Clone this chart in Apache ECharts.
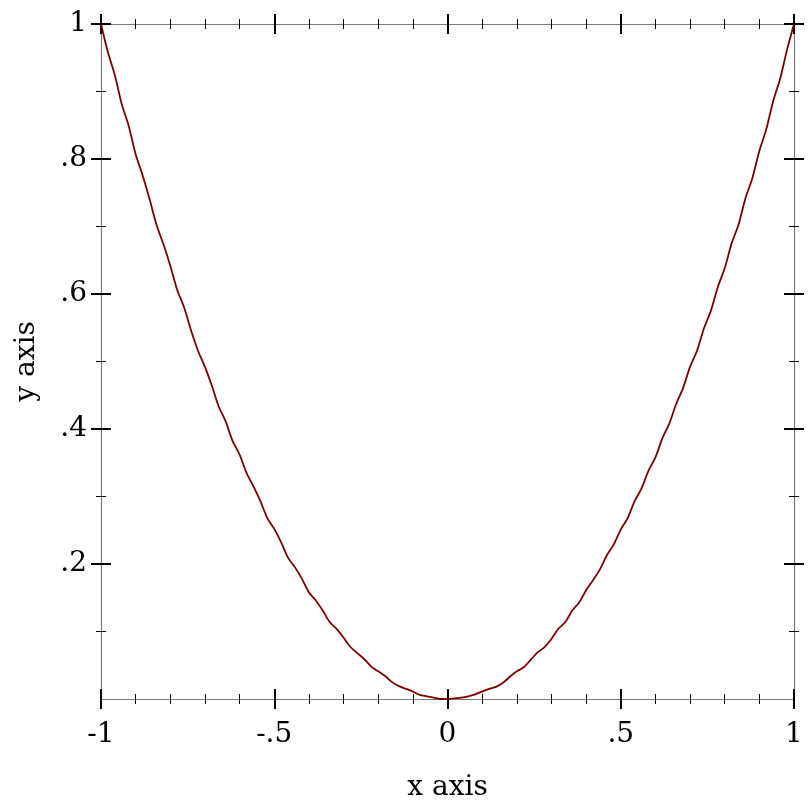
<!DOCTYPE html>
<html>
<head>
<meta charset="utf-8">
<script src="https://cdn.jsdelivr.net/npm/echarts@6/dist/echarts.min.js"></script>
<style>html,body{margin:0;padding:0;background:#fff;}#c{width:812px;height:812px;}</style>
</head>
<body>
<div id="c"></div>
<script>
const xValues = [-1.00,-0.98,-0.96,-0.94,-0.92,-0.90,-0.88,-0.86,-0.84,-0.82,-0.80,-0.78,-0.76,-0.74,-0.72,-0.70,-0.68,-0.66,-0.64,-0.62,-0.60,-0.58,-0.56,-0.54,-0.52,-0.50,-0.48,-0.46,-0.44,-0.42,-0.40,-0.38,-0.36,-0.34,-0.32,-0.30,-0.28,-0.26,-0.24,-0.22,-0.20,-0.18,-0.16,-0.14,-0.12,-0.10,-0.08,-0.06,-0.04,-0.02,0.00,
  0.02,0.04,0.06,0.08,0.10,0.12,0.14,0.16,0.18,0.20,0.22,0.24,0.26,0.28,0.30,0.32,0.34,0.36,0.38,0.40,0.42,0.44,0.46,0.48,0.50,0.52,0.54,0.56,0.58,0.60,0.62,0.64,0.66,0.68,0.70,0.72,0.74,0.76,0.78,0.80,0.82,0.84,0.86,0.88,0.90,0.92,0.94,0.96,0.98,1.00];
const yValues = [1.000,0.958,0.924,0.881,0.849,0.807,0.776,0.741,0.703,0.674,0.642,0.606,0.580,0.546,0.516,0.492,0.464,0.433,0.411,0.382,0.362,0.335,0.315,0.293,0.268,0.252,0.232,0.209,0.195,0.178,0.158,0.146,0.131,0.114,0.104,0.091,0.077,0.068,0.059,0.048,0.041,0.034,0.025,0.019,0.015,0.011,0.006,0.004,0.002,0.000,0.000,
  0.001,0.002,0.004,0.007,0.011,0.015,0.018,0.024,0.033,0.041,0.047,0.058,0.069,0.077,0.089,0.104,0.114,0.131,0.143,0.161,0.176,0.192,0.213,0.229,0.251,0.268,0.293,0.312,0.338,0.358,0.386,0.408,0.437,0.461,0.492,0.516,0.549,0.575,0.610,0.638,0.675,0.703,0.742,0.772,0.812,0.844,0.886,0.919,0.962,1.000];
const xTickLabels = ['-1', '-.5', '0', '.5', '1'];
const xMajorTicks = [-1, -0.5, 0, 0.5, 1];
const yMajorTicks = [0.2, 0.4, 0.6, 0.8, 1];
const yMinorTicks = [0.1, 0.3, 0.5, 0.7, 0.9];
const yTickLabels = ['.2', '.4', '.6', '.8', '1'];
const xAxisTitle = 'x axis';
const yAxisTitle = 'y axis';

const FONT = 'DejaVu Serif';
const AXIS_GRAY = '#7a7a7a';

function xAx(pos, inside, main) {
  return {
    type: 'value', min: -1, max: 1, interval: 0.5, position: pos,
    splitLine: { show: false },
    axisLine: { show: !inside, onZero: false, lineStyle: { color: AXIS_GRAY, width: 1.2 } },
    axisTick: { show: true, inside: inside, length: 10, lineStyle: { color: '#000', width: 2 } },
    minorTick: { show: true, splitNumber: 5, length: 5, lineStyle: { color: '#000', width: 1 } },
    axisLabel: main ? {
      show: true, margin: 22, color: '#000', fontFamily: FONT, fontSize: 28,
      formatter: function (v) { const i = xMajorTicks.findIndex(t => Math.abs(t - v) < 1e-9); return i >= 0 ? xTickLabels[i] : ''; }
    } : { show: false },
    name: main ? xAxisTitle : '', nameLocation: 'middle', nameGap: 75,
    nameTextStyle: { color: '#000', fontFamily: FONT, fontSize: 28 }
  };
}
function yAx(pos, inside, major, main) {
  return {
    type: 'value', min: 0, max: 1, interval: 0.1, position: pos,
    splitLine: { show: false },
    axisLine: { show: (!inside && major), onZero: false, lineStyle: { color: AXIS_GRAY, width: 1.2 } },
    axisTick: { show: true, inside: inside, length: major ? 10 : 5, customValues: major ? yMajorTicks : yMinorTicks,
      lineStyle: { color: '#000', width: major ? 2 : 1 } },
    axisLabel: main ? {
      show: true, margin: 14, color: '#000', fontFamily: FONT, fontSize: 28,
      customValues: yMajorTicks,
      formatter: function (v) { const i = yMajorTicks.findIndex(t => Math.abs(t - v) < 1e-9); return i >= 0 ? yTickLabels[i] : ''; }
    } : { show: false },
    name: main ? yAxisTitle : '', nameLocation: 'middle', nameGap: 60,
    nameTextStyle: { color: '#000', fontFamily: FONT, fontSize: 28 }
  };
}

const chart = echarts.init(document.getElementById('c'), null, { renderer: 'canvas' });
chart.setOption({
  animation: false,
  backgroundColor: '#fff',
  grid: { left: 101, right: 18, top: 24, bottom: 113, containLabel: false },
  xAxis: [xAx('bottom', false, true), xAx('bottom', true, false), xAx('top', false, false), xAx('top', true, false)],
  yAxis: [
    yAx('left', false, true, true), yAx('left', true, true, false), yAx('left', false, false, false), yAx('left', true, false, false),
    yAx('right', false, true, false), yAx('right', true, true, false), yAx('right', false, false, false), yAx('right', true, false, false)
  ],
  series: [{
    type: 'line', xAxisIndex: 0, yAxisIndex: 0,
    data: xValues.map((x, i) => [x, yValues[i]]),
    showSymbol: false, smooth: 0.3, clip: false,
    lineStyle: { color: '#7f0000', width: 1.8 }
  }]
});
</script>
</body>
</html>
